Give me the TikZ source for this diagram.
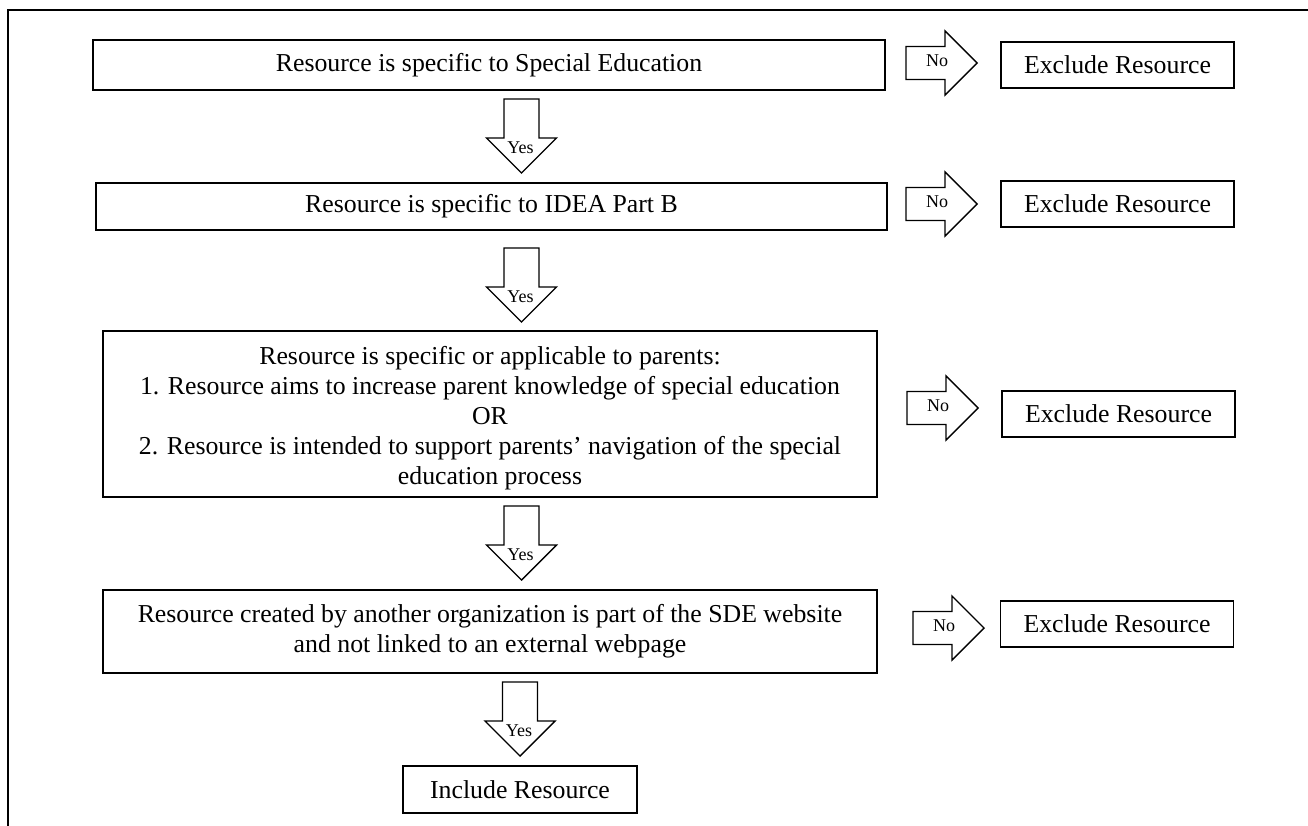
\documentclass[tikz,border=0pt]{standalone}
\usepackage{fontspec}
\setmainfont{Liberation Serif}
\begin{document}
\begin{tikzpicture}[x=1pt,y=-1pt,
  box/.style={draw, line width=1.8pt, rectangle, inner sep=0pt, align=center,
    font=\fontsize{25.8}{30}\selectfont},
  txt/.style={inner sep=0pt, align=center, font=\fontsize{25.8}{30}\selectfont},
  blockarrow/.style={draw, line width=1.4pt, line join=miter, fill=white},
  lbl/.style={inner sep=0pt, font=\fontsize{18}{18}\selectfont},
  yesarrow/.pic={
    \draw[blockarrow] (-17.5,0) -- (17.5,0) -- (17.5,39) -- (35,39) -- (0,74) -- (-35,39) -- (-17.5,39) -- cycle;
    \node[lbl] at (-1,49) {Yes};
  },
  noarrow/.pic={
    \draw[blockarrow] (0,-16.5) -- (39,-16.5) -- (39,-32) -- (71,0) -- (39,32) -- (39,16.5) -- (0,16.5) -- cycle;
    \node[lbl] at (31,-2) {No};
  }
]
\useasboundingbox (0,0) rectangle (1308,826);
\draw[line width=1.4pt] (1308,10) -- (8,10) -- (8,826);

\node[box, minimum width=792, minimum height=50] (b1) at (489,65) {Resource is specific to Special Education};
\node[box, minimum width=791, minimum height=47] (b2) at (491.5,206.5) {Resource is specific to IDEA Part B};
\node[box, minimum width=774, minimum height=166] (b3) at (490,414) {};
\node[txt] (b3t) at ([yshift=-4]b3.center) {Resource is specific or applicable to parents:\\
1. Resource aims to increase parent knowledge of special education\\
OR\\
2. Resource is intended to support parents’ navigation of the special\\
education process};
\node[box, minimum width=774, minimum height=83] (b4) at (490,631.5) {Resource created by another organization is part of the SDE website\\
and not linked to an external webpage};
\node[box, minimum width=234, minimum height=47] (inc) at (520,789.5) {Include Resource};

\node[box, minimum width=233, minimum height=46] (e1) at (1117.5,65) {Exclude Resource};
\node[box, minimum width=233, minimum height=46] (e2) at (1117.5,204) {Exclude Resource};
\node[box, minimum width=233, minimum height=46] (e3) at (1118.5,414) {Exclude Resource};
\node[box, minimum width=233, minimum height=46] (e4) at (1117,624) {Exclude Resource};

\pic at (521.5,99) {yesarrow};
\pic at (521.5,248) {yesarrow};
\pic at (521.5,506) {yesarrow};
\pic at (520,682) {yesarrow};

\pic at (906,63) {noarrow};
\pic at (906,204) {noarrow};
\pic at (907,408) {noarrow};
\pic at (913,628) {noarrow};
\end{tikzpicture}
\end{document}
